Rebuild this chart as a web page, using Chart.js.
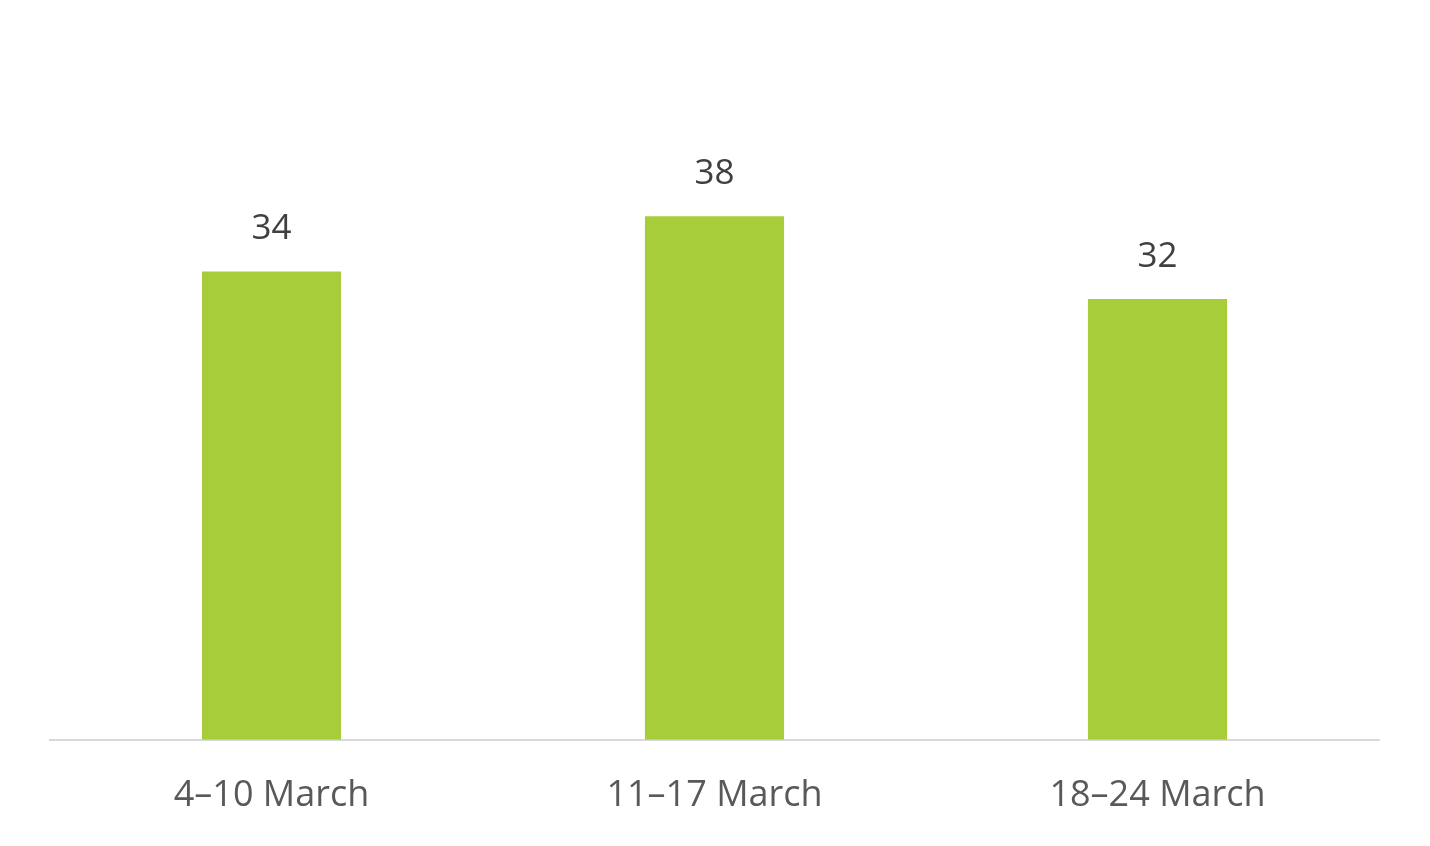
<!DOCTYPE html>
<html>
<head>
<meta charset="utf-8">
<script src="https://cdn.jsdelivr.net/npm/chart.js@4"></script>
<style>
  html, body { margin: 0; padding: 0; background: #ffffff; }
  #wrap { width: 1430px; height: 846px; }
</style>
</head>
<body>
<div id="wrap"><canvas id="grafico"></canvas></div>
<script>
// Dados do gráfico
const semanas = ["4–10 March", "11–17 March", "18–24 March"];
const valores = [34, 38, 32];

const corBarra = "#A7CE3A";
const corEixo = "#D9D9D9";
const corRotulo = "#595959";
const corValor = "#404040";
const fonte = "'Open Sans', 'Noto Sans', sans-serif";

// Plugin simples para escrever o valor acima de cada barra
const rotulosValor = {
    id: "rotulosValor",
    afterDatasetsDraw(chart) {
        const ctx = chart.ctx;
        const meta = chart.getDatasetMeta(0);
        ctx.save();
        ctx.fillStyle = corValor;
        ctx.font = "35px " + fonte;
        ctx.textAlign = "center";
        ctx.textBaseline = "alphabetic";
        meta.data.forEach((barra, i) => {
            ctx.fillText(String(valores[i]), barra.x, barra.y - 32);
        });
        ctx.restore();
    }
};

new Chart(document.getElementById("grafico"), {
    type: "bar",
    data: {
        labels: semanas,
        datasets: [{
            data: valores,
            backgroundColor: corBarra,
            categoryPercentage: 1,
            barPercentage: 0.314
        }]
    },
    options: {
        responsive: true,
        maintainAspectRatio: false,
        animation: false,
        layout: {
            padding: { left: 50, right: 51, top: 51, bottom: 3 }
        },
        plugins: {
            legend: { display: false },
            tooltip: { enabled: false }
        },
        scales: {
            x: {
                grid: { display: false },
                border: { display: true, color: corEixo, width: 2 },
                ticks: {
                    color: corRotulo,
                    font: { family: fonte, size: 36 },
                    padding: 26
                }
            },
            y: {
                display: false,
                min: 0,
                max: 50
            }
        }
    },
    plugins: [rotulosValor]
});
</script>
</body>
</html>
